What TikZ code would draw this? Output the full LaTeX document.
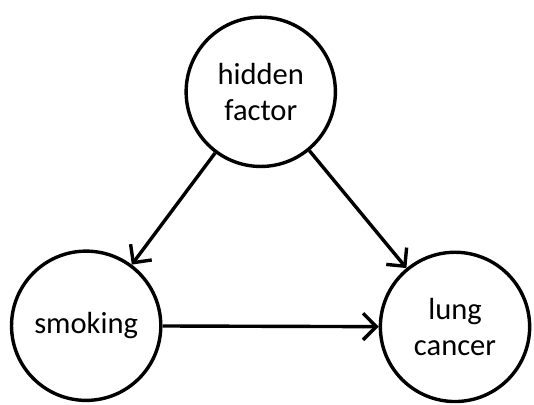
\documentclass[tikz,border=0pt]{standalone}
\usepackage{fontspec}
\setmainfont{Carlito}
\usetikzlibrary{arrows.meta}
\begin{document}
\begin{tikzpicture}[
  factor/.style={shape=circle,draw,line width=0.09cm,minimum size=3.95cm,align=center,font=\fontsize{23}{27}\selectfont},
  link/.style={line width=0.09cm,-{Straight Barb[length=3.5mm,width=7mm]}}]
\useasboundingbox (0,0) rectangle (14.13,10.71);
\node[factor] (hidden) at (6.9,8.28) {hidden\\factor};
\node[factor] (smoking) at (2.28,2.09) {smoking};
\node[factor] (cancer) at (12.04,2.06) {lung\\cancer};
\draw[link] (hidden) to (smoking);
\draw[link] (hidden) to (cancer);
\draw[link] (smoking) to (cancer);
\end{tikzpicture}
\end{document}
